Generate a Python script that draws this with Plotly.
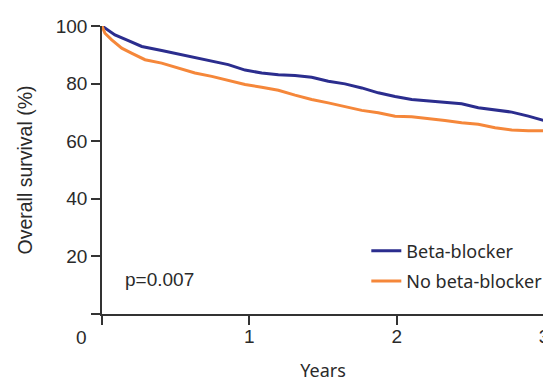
import plotly.graph_objects as go

# Kaplan-Meier estimates (years, % surviving)
bb_time = [0, 0.088, 0.179, 0.27, 0.405, 0.518, 0.631, 0.745, 0.857, 0.971, 1.084, 1.197,
           1.31, 1.423, 1.536, 1.649, 1.763, 1.875, 1.989, 2.102, 2.215, 2.328, 2.441,
           2.554, 2.668, 2.781, 2.894, 3.0]
bb_surv = [100, 96.9, 94.9, 92.9, 91.5, 90.3, 88.9, 87.7, 86.6, 84.7, 83.7, 83.1,
           82.8, 82.2, 80.8, 79.9, 78.5, 76.8, 75.5, 74.5, 74.0, 73.3, 73.0,
           71.6, 70.8, 70.1, 68.7, 67.2]

nobb_time = [0, 0.02, 0.066, 0.134, 0.2, 0.292, 0.405, 0.518, 0.631, 0.745, 0.857, 0.971,
             1.084, 1.197, 1.31, 1.423, 1.536, 1.649, 1.763, 1.875, 1.989, 2.102, 2.215,
             2.328, 2.441, 2.554, 2.668, 2.781, 2.894, 3.0]
nobb_surv = [100, 97.5, 95.2, 92.3, 90.6, 88.3, 87.1, 85.4, 83.7, 82.5, 81.1, 79.7,
             78.7, 77.7, 76.0, 74.5, 73.3, 72.0, 70.7, 69.9, 68.7, 68.5, 67.9,
             67.2, 66.4, 65.9, 64.7, 63.9, 63.6, 63.6]

series_names = ["Beta-blocker", "No beta-blocker"]
colors = ["#2b2d8e", "#f5873a"]

x_tickvals = [0, 1, 2, 3]
x_ticktext = ["", "1", "2", "3"]
y_tickvals = [0, 20, 40, 60, 80, 100]
y_ticktext = ["", "20", "40", "60", "80", "100"]

p_value_text = "p=0.007"

fig = go.Figure()
for i, (t, s, name, c) in enumerate([(bb_time, bb_surv, series_names[0], colors[0]),
                                     (nobb_time, nobb_surv, series_names[1], colors[1])]):
    fig.add_trace(go.Scatter(x=t, y=s, mode="lines", name=name, legendgroup=f"g{i}",
                             line=dict(color=c, width=3),
                             hoverinfo="skip"))

axis_font = dict(family="Liberation Sans, Arial, sans-serif", size=19, color="#2a2a2a")

# page body has an 8px default margin, so the figure is drawn 8px in from the top-left
fig.update_layout(
    width=543, height=374,
    margin=dict(l=94, r=7, t=18, b=68, autoexpand=False),
    paper_bgcolor="white", plot_bgcolor="white",
    showlegend=True,
    legend=dict(x=0.598, y=0.283, xanchor="left", yanchor="top",
                bgcolor="rgba(0,0,0,0)",
                font=dict(family="Noto Sans, sans-serif", size=18, color="#2a2a2a"),
                tracegroupgap=4),
    xaxis=dict(range=[0, 3], tickvals=x_tickvals, ticktext=x_ticktext,
               automargin=False,
               showgrid=False, zeroline=False, showline=True, linecolor="#333333",
               linewidth=1.5, ticks="outside", ticklen=9, tickwidth=1.5,
               tickcolor="#333333", tickfont=axis_font, ticklabelstandoff=-5,
               title=dict(text="Years", standoff=21,
                          font=dict(family="Noto Sans, sans-serif", size=18, color="#2a2a2a"))),
    yaxis=dict(range=[0, 100], tickvals=y_tickvals, ticktext=y_ticktext,
               automargin=False,
               showgrid=False, zeroline=False, showline=True, linecolor="#333333",
               linewidth=1.5, ticks="outside", ticklen=9, tickwidth=1.5,
               tickcolor="#333333", tickfont=axis_font,
               title=dict(text="Overall survival (%)", standoff=18,
                          font=dict(family="Liberation Sans, Arial, sans-serif", size=19.5,
                                    color="#2a2a2a"))),
)

fig.add_annotation(x=0.145, y=12, xref="x", yref="y", text=p_value_text,
                   showarrow=False, xanchor="left", yanchor="middle",
                   font=axis_font)
fig.add_annotation(x=0, y=0, xref="x", yref="y", text="0", showarrow=False,
                   xanchor="center", yanchor="middle", xshift=-21, yshift=-23,
                   font=axis_font)

fig.write_html("out.html")
